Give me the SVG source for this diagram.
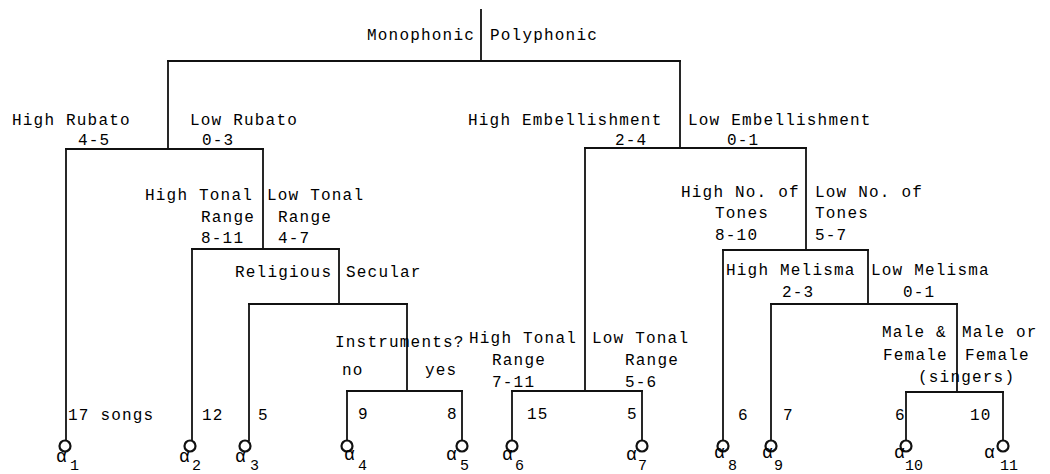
<svg xmlns="http://www.w3.org/2000/svg" width="1050" height="474" viewBox="0 0 1050 474">
<style>
text{font-family:"Liberation Mono","DejaVu Sans Mono",monospace;font-size:16px;letter-spacing:1.2px;fill:#000}
.a{font-size:18px;letter-spacing:0}
.s{font-size:15px;letter-spacing:0}
.ln{stroke:#111;stroke-width:1.8;fill:none;stroke-linecap:square}
.leaf{stroke:#111;stroke-width:2.2;fill:#fff}
</style>
<rect width="1050" height="474" fill="#fff"/>
<g id="connectors" class="ln">
<path d="M481 10V61M168 61H680"/>
<path d="M168 61V149M66 149H263"/>
<path d="M680 61V148M585 148H806"/>
<path d="M66 149V440"/>
<path d="M263 149V249M192 249H339"/>
<path d="M192 249V440"/>
<path d="M339 249V304M249 304H407"/>
<path d="M249 304V440"/>
<path d="M407 304V391M347 391H462"/>
<path d="M347 391V440M462 391V440"/>
<path d="M585 148V391M512 391H642"/>
<path d="M512 391V440M642 391V440"/>
<path d="M806 148V250M723 250H868"/>
<path d="M723 250V440"/>
<path d="M868 250V304M771 304H957"/>
<path d="M771 304V440"/>
<path d="M957 304V392M906 392H1003"/>
<path d="M906 392V440M1003 392V440"/>
</g>
<g id="n-root">
<text x="367" y="40">Monophonic</text>
<text x="490" y="40">Polyphonic</text>
</g>
<g id="n-rubato">
<text x="12" y="125">High Rubato</text>
<text x="78" y="145">4-5</text>
<text x="190" y="125">Low Rubato</text>
<text x="202" y="145">0-3</text>
</g>
<g id="n-embellishment">
<text x="468" y="125">High Embellishment</text>
<text x="615" y="145">2-4</text>
<text x="688" y="125">Low Embellishment</text>
<text x="727" y="145">0-1</text>
</g>
<g id="n-tonal-range-1">
<text x="145" y="200">High Tonal</text>
<text x="201" y="222">Range</text>
<text x="201" y="243">8-11</text>
<text x="267" y="200">Low Tonal</text>
<text x="278" y="222">Range</text>
<text x="278" y="243">4-7</text>
</g>
<g id="n-religious">
<text x="235" y="277">Religious</text>
<text x="346" y="277">Secular</text>
</g>
<g id="n-instruments">
<text x="335" y="347">Instruments?</text>
<text x="342" y="375">no</text>
<text x="425" y="375">yes</text>
</g>
<g id="n-tonal-range-2">
<text x="469" y="343">High Tonal</text>
<text x="492" y="365">Range</text>
<text x="492" y="387">7-11</text>
<text x="592" y="343">Low Tonal</text>
<text x="625" y="365">Range</text>
<text x="625" y="387">5-6</text>
</g>
<g id="n-tones">
<text x="681" y="197">High No. of</text>
<text x="715" y="218">Tones</text>
<text x="715" y="240">8-10</text>
<text x="815" y="197">Low No. of</text>
<text x="815" y="218">Tones</text>
<text x="815" y="240">5-7</text>
</g>
<g id="n-melisma">
<text x="726" y="275">High Melisma</text>
<text x="782" y="297">2-3</text>
<text x="871" y="275">Low Melisma</text>
<text x="903" y="297">0-1</text>
</g>
<g id="n-singers">
<text x="882" y="337">Male &amp;</text>
<text x="883" y="360">Female</text>
<text x="962" y="337">Male or</text>
<text x="965" y="360">Female</text>
<text x="918" y="382">(singers)</text>
</g>
<g id="leaf-a1"><text x="68" y="420">17 songs</text><circle class="leaf" cx="65" cy="446" r="5.5"/><text class="a" x="56" y="462">α</text><text class="s" x="70" y="470">1</text></g>
<g id="leaf-a2"><text x="202" y="420">12</text><circle class="leaf" cx="190" cy="446" r="5.5"/><text class="a" x="179" y="462">α</text><text class="s" x="192" y="470">2</text></g>
<g id="leaf-a3"><text x="258" y="420">5</text><circle class="leaf" cx="245" cy="446" r="5.5"/><text class="a" x="235" y="462">α</text><text class="s" x="250" y="470">3</text></g>
<g id="leaf-a4"><text x="358" y="419">9</text><circle class="leaf" cx="347" cy="446" r="5.5"/><text class="a" x="344" y="460">α</text><text class="s" x="358" y="470">4</text></g>
<g id="leaf-a5"><text x="447" y="419">8</text><circle class="leaf" cx="462" cy="446" r="5.5"/><text class="a" x="446" y="460">α</text><text class="s" x="460" y="470">5</text></g>
<g id="leaf-a6"><text x="527" y="419">15</text><circle class="leaf" cx="512" cy="446" r="5.5"/><text class="a" x="502" y="460">α</text><text class="s" x="515" y="470">6</text></g>
<g id="leaf-a7"><text x="627" y="419">5</text><circle class="leaf" cx="642" cy="446" r="5.5"/><text class="a" x="626" y="460">α</text><text class="s" x="638" y="470">7</text></g>
<g id="leaf-a8"><text x="738" y="420">6</text><circle class="leaf" cx="723" cy="446" r="5.5"/><text class="a" x="714" y="458">α</text><text class="s" x="728" y="470">8</text></g>
<g id="leaf-a9"><text x="783" y="420">7</text><circle class="leaf" cx="771" cy="446" r="5.5"/><text class="a" x="762" y="458">α</text><text class="s" x="774" y="470">9</text></g>
<g id="leaf-a10"><text x="895" y="420">6</text><circle class="leaf" cx="906" cy="446" r="5.5"/><text class="a" x="894" y="458">α</text><text class="s" x="905" y="470">10</text></g>
<g id="leaf-a11"><text x="970" y="420">10</text><circle class="leaf" cx="1003" cy="446" r="5.5"/><text class="a" x="984" y="458">α</text><text class="s" x="1000" y="470">11</text></g>
</svg>
